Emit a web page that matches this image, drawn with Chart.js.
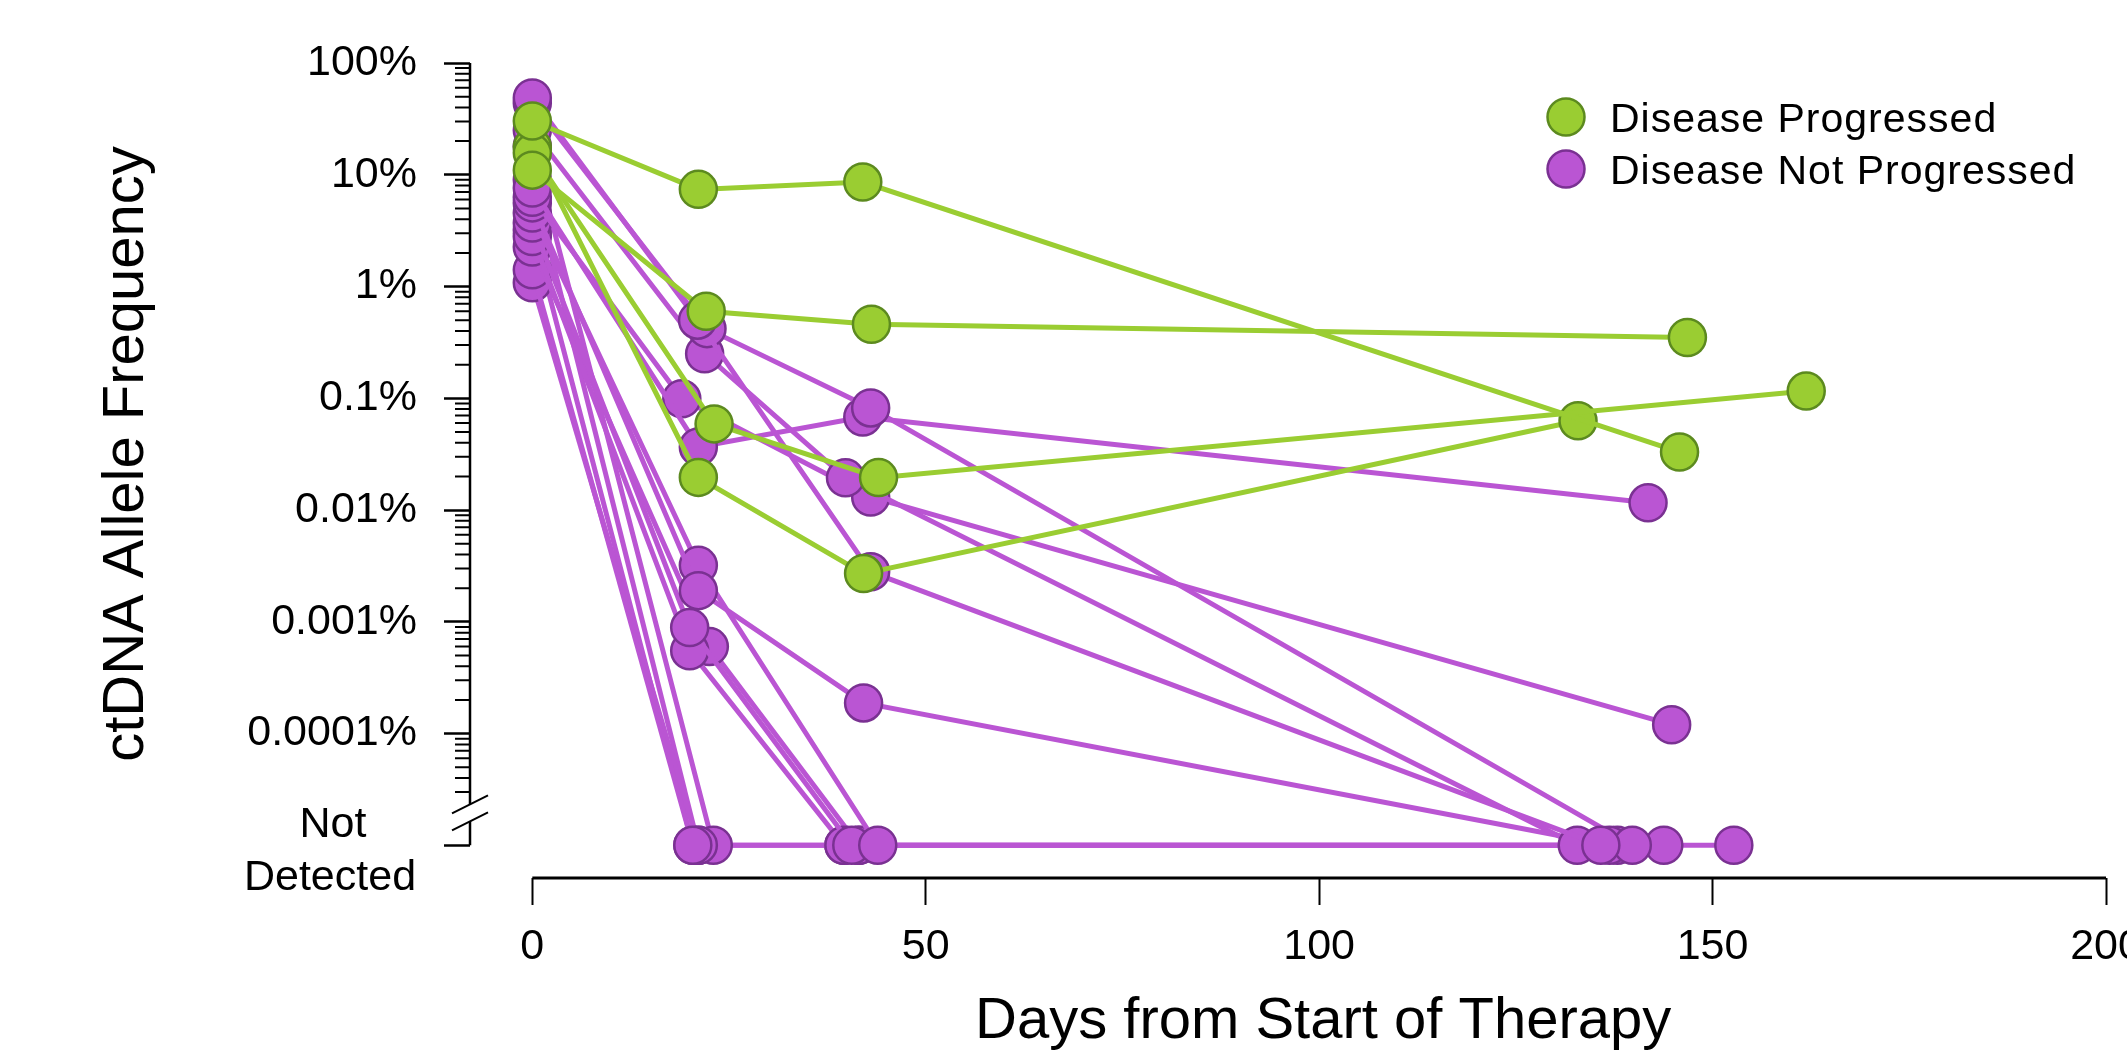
<!DOCTYPE html>
<html>
<head>
<meta charset="utf-8">
<title>ctDNA allele frequency</title>
<script src="https://cdn.jsdelivr.net/npm/chart.js"></script>
<style>
    html, body { margin: 0; padding: 0; background: #fff; }
    #wrap { width: 2127px; height: 1050px; }
</style>
</head>
<body>
<div id="wrap"><canvas id="myChart" width="2127" height="1050"></canvas></div>
<script>
// =============================================
//
// ctDNA allele frequency vs days from start of therapy
// one line per patient, log y axis (%), "Not Detected" under the break
//
// =============================================

const ND = 1e-5; // not detected, drawn one decade under 0.0001%

// Disease Progressed: days and AF (%) per patient
const progressedDays = [
    [0, 21.1, 42.0, 145.8],
    [0, 22.1, 43.1, 146.8],
    [0, 23.1, 44.0, 161.9],
    [0, 21.1, 42.1, 132.9],
];
const progressedAF = [
    [30.3, 7.4, 8.6, 0.033],
    [11.0, 0.6, 0.46, 0.35],
    [15.7, 0.059, 0.0195, 0.116],
    [17.7, 0.0196, 0.0027, 0.063],
];

// Disease Not Progressed
const notProgressedDays = [
    [0, 21.0, 43.0, 135.8],
    [0, 22.2, 43.0, 139.8],
    [0, 21.9, 39.8, 132.8],
    [0, 21.1, 42.0, 141.8],
    [0, 19.0, 43.0, 144.8],
    [0, 21.1, 42.1, 136.9],
    [0, 21.1, 43.9, 137.9],
    [0, 20.0, 40.6, 143.8],
    [0, 20.0, 39.6, 152.7],
    [0, 22.5, 41.5],
    [0, 20.4],
    [0, 21.1],
    [0, 23.0, 41.5],
    [0, 21.1],
    [0, 20.4, 39.6],
];
const notProgressedAF = [
    [48.7, 0.5, 0.0028, ND],
    [43.8, 0.42, 0.082, ND],
    [25, 0.25, 0.0194, ND],
    [7.6, 0.0367, 0.068, 0.0116],
    [6.3, 0.099, 0.0131, 0.00012],
    [5.6, 0.0019, 0.000188, ND],
    [4.55, 0.0032, ND, ND],
    [3.7, 0.00089, ND, ND],
    [2.8, 0.00055, ND, ND],
    [2.26, 0.0006, ND],
    [1.41, ND],
    [1.08, ND],
    [18, ND, ND],
    [9.0, ND],
    [3.2, ND, ND],
];

const xTicks = [0, 50, 100, 150, 200];
const yTickValues = [100, 10, 1, 0.1, 0.01, 0.001, 0.0001, ND];
const yTickLabels = ["100%", "10%", "1%", "0.1%", "0.01%", "0.001%", "0.0001%", ""];
const ndLabel = ["Not", "Detected"];
const minorSteps = [2, 3, 4, 5, 6, 7, 8, 9];
const legendLabels = ["Disease Progressed", "Disease Not Progressed"];

const GREEN = "#9acd32";
const GREEN_EDGE = "#5c8a1f";
const PURPLE = "#ba55d3";
const PURPLE_EDGE = "#7a3192";
const FONT = "'Liberation Sans', Arial, Helvetica, sans-serif";

function patientSets(daysList, afList, color, edge) {
    return daysList.map((days, i) => ({
        data: days.map((d, j) => ({ x: d, y: afList[i][j] })),
        showLine: true,
        borderColor: color,
        borderWidth: 5,
        backgroundColor: color,
        pointBackgroundColor: color,
        pointBorderColor: edge,
        pointBorderWidth: 2.5,
        pointRadius: 18.5,
        pointHoverRadius: 18.5,
        tension: 0,
    }));
}

// axis lines, minor ticks, axis break, titles and legend
const rStyleAxes = {
    id: "rStyleAxes",
    afterDraw(chart) {
        const { ctx, chartArea } = chart;
        const x = chart.scales.x;
        const y = chart.scales.y;
        const ax = chartArea.left;
        const yND = y.getPixelForValue(ND);

        ctx.save();
        ctx.strokeStyle = "#000";
        ctx.fillStyle = "#000";

        // x axis only over the tick range
        ctx.lineWidth = 3;
        ctx.beginPath();
        ctx.moveTo(x.getPixelForValue(xTicks[0]), chartArea.bottom);
        ctx.lineTo(x.getPixelForValue(xTicks[xTicks.length - 1]), chartArea.bottom);
        ctx.stroke();

        // y axis, broken above "Not Detected"
        ctx.lineWidth = 2.5;
        ctx.beginPath();
        ctx.moveTo(ax, y.getPixelForValue(yTickValues[0]));
        ctx.lineTo(ax, yND - 41);
        ctx.moveTo(ax, yND - 24);
        ctx.lineTo(ax, yND);
        ctx.stroke();
        ctx.lineWidth = 2;
        ctx.beginPath();
        [yND - 41, yND - 24].forEach((c) => {
            ctx.moveTo(ax - 18, c + 9);
            ctx.lineTo(ax + 18, c - 9);
        });
        ctx.stroke();

        // minor log ticks
        ctx.beginPath();
        yTickValues.slice(1).forEach((base) => {
            minorSteps.forEach((m) => {
                if (base === ND && m < 3) return;
                const py = y.getPixelForValue(base * m);
                ctx.moveTo(ax - 15, py);
                ctx.lineTo(ax, py);
            });
        });
        ctx.stroke();

        // "Not Detected"
        ctx.font = "43px " + FONT;
        ctx.textAlign = "center";
        ctx.textBaseline = "alphabetic";
        ctx.fillText(ndLabel[0], 333, yND - 8);
        ctx.fillText(ndLabel[1], 330, yND + 45);

        // axis titles
        ctx.font = "58px " + FONT;
        ctx.fillText("Days from Start of Therapy", x.getPixelForValue(100) + 4, 1038);
        ctx.save();
        ctx.translate(143, 454);
        ctx.rotate(-Math.PI / 2);
        ctx.fillText("ctDNA Allele Frequency", 0, 0);
        ctx.restore();

        // legend
        const fills = [GREEN, PURPLE];
        const edges = [GREEN_EDGE, PURPLE_EDGE];
        ctx.textAlign = "left";
        ctx.font = "41px " + FONT;
        ctx.letterSpacing = "1px";
        legendLabels.forEach((label, i) => {
            const cy = 117 + i * 52;
            ctx.beginPath();
            ctx.arc(1566, cy, 18.5, 0, Math.PI * 2);
            ctx.fillStyle = fills[i];
            ctx.fill();
            ctx.lineWidth = 2.5;
            ctx.strokeStyle = edges[i];
            ctx.stroke();
            ctx.fillStyle = "#000";
            ctx.fillText(label, 1610, cy + 15);
        });
        ctx.restore();
    },
};

Chart.defaults.font.family = FONT;
Chart.defaults.color = "#000";

const config = {
    type: "scatter",
    data: {
        // green first so it is drawn on top
        datasets: [
            ...patientSets(progressedDays, progressedAF, GREEN, GREEN_EDGE),
            ...patientSets(notProgressedDays, notProgressedAF, PURPLE, PURPLE_EDGE),
        ],
    },
    options: {
        responsive: false,
        devicePixelRatio: 1,
        animation: false,
        events: [],
        layout: { padding: { top: 63, right: 3, bottom: 0, left: 0 } },
        plugins: {
            legend: { display: false },
            tooltip: { enabled: false },
        },
        scales: {
            x: {
                type: "linear",
                min: -7.92,
                max: 200,
                afterBuildTicks: (axis) => {
                    axis.ticks = xTicks.map((v) => ({ value: v }));
                },
                afterFit: (axis) => {
                    axis.height = 172;
                    axis.paddingLeft = 0;
                    axis.paddingRight = 0;
                },
                border: { display: false },
                grid: {
                    display: true,
                    drawOnChartArea: false,
                    drawTicks: true,
                    tickLength: 27,
                    tickWidth: 2,
                    tickColor: "#000",
                },
                ticks: {
                    autoSkip: false,
                    maxRotation: 0,
                    padding: 16,
                    font: { size: 43 },
                    color: "#000",
                },
            },
            y: {
                type: "logarithmic",
                min: 5.1e-6,
                max: 100,
                afterBuildTicks: (axis) => {
                    axis.ticks = yTickValues.map((v) => ({ value: v }));
                },
                afterFit: (axis) => {
                    axis.width = 470;
                    axis.paddingTop = 0;
                    axis.paddingBottom = 0;
                },
                border: { display: false },
                grid: {
                    display: true,
                    drawOnChartArea: false,
                    drawTicks: true,
                    tickLength: 26,
                    tickWidth: 2.5,
                    tickColor: "#000",
                },
                ticks: {
                    autoSkip: false,
                    padding: 27,
                    font: { size: 43 },
                    color: "#000",
                    callback: (value, index) => yTickLabels[index],
                },
            },
        },
    },
    plugins: [rStyleAxes],
};

const myChart = new Chart(document.getElementById("myChart"), config);
</script>
</body>
</html>
